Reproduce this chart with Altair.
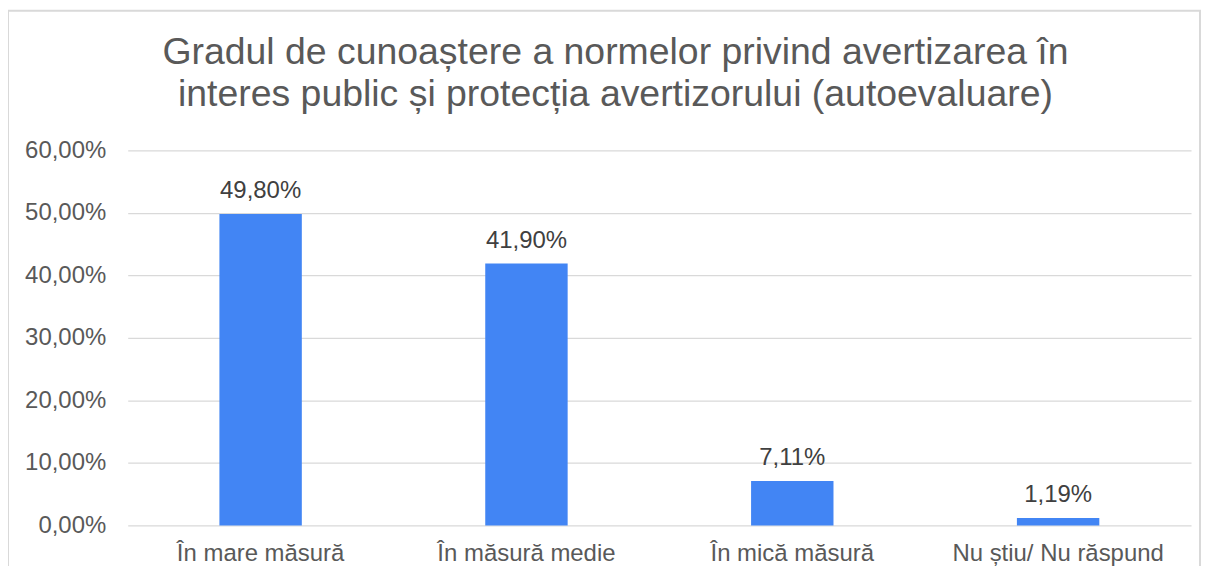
import altair as alt
import pandas as pd

categories = ["În mare măsură", "În măsură medie", "În mică măsură", "Nu știu/ Nu răspund"]
values = [0.4980, 0.4190, 0.0711, 0.0119]
y_ticks = [0.0, 0.1, 0.2, 0.3, 0.4, 0.5, 0.6]
title_lines = [
    "Gradul de cunoaștere a normelor privind avertizarea în",
    "interes public și protecția avertizorului (autoevaluare)",
]

df = pd.DataFrame({"cat": categories, "val": values})

FONT = "Liberation Sans"
GREY = "#595959"

x_enc = alt.X(
    "cat:N",
    sort=categories,
    title=None,
    scale=alt.Scale(paddingInner=0.69, paddingOuter=0.345),
    axis=alt.Axis(
        labelAngle=0,
        labelFontSize=24,
        labelColor=GREY,
        labelFont=FONT,
        labelPadding=16,
        labelLimit=0,
        ticks=False,
        domain=False,
        grid=False,
    ),
)
y_enc = alt.Y(
    "val:Q",
    title=None,
    scale=alt.Scale(domain=[0, 0.6], nice=False),
    axis=alt.Axis(
        values=y_ticks,
        labelExpr="replace(format(datum.value, '.2%'), '.', ',')",
        labelFontSize=24,
        labelColor=GREY,
        labelFont=FONT,
        labelPadding=22,
        ticks=False,
        domain=False,
        grid=True,
        gridColor="#d9d9d9",
        gridWidth=1.3,
    ),
)

base = alt.Chart(df)

bars = base.mark_bar(color="#4285F4").encode(x=x_enc, y=y_enc)

labels = base.transform_calculate(
    lbl="replace(format(datum.val, '.2%'), '.', ',')"
).mark_text(
    dy=-16, baseline="alphabetic", fontSize=24, font=FONT, color="#404040"
).encode(x=alt.X("cat:N", sort=categories), y="val:Q", text="lbl:N")

border = alt.Chart(pd.DataFrame({"a": [0]})).mark_rect(
    fill=None, stroke="#d9d9d9", strokeWidth=2
).encode(
    x=alt.value(-120), x2=alt.value(1075),
    y=alt.value(-140), y2=alt.value(460),
)

chart = alt.layer(border, bars, labels).properties(
    width=1066,
    height=376,
    title=alt.TitleParams(
        text=title_lines,
        fontSize=37.5,
        font=FONT,
        fontWeight="normal",
        color=GREY,
        anchor="middle",
        lineHeight=42,
        offset=0,
        dy=104,
        dx=-44,
    ),
    autosize=alt.AutoSizeParams(type="none"),
    padding={"left": 120, "top": 142, "right": 12, "bottom": 40},
).configure(background="white", view=alt.ViewConfig(stroke=None))

chart.save("out.html", embed_options={"renderer": "svg", "actions": False})
